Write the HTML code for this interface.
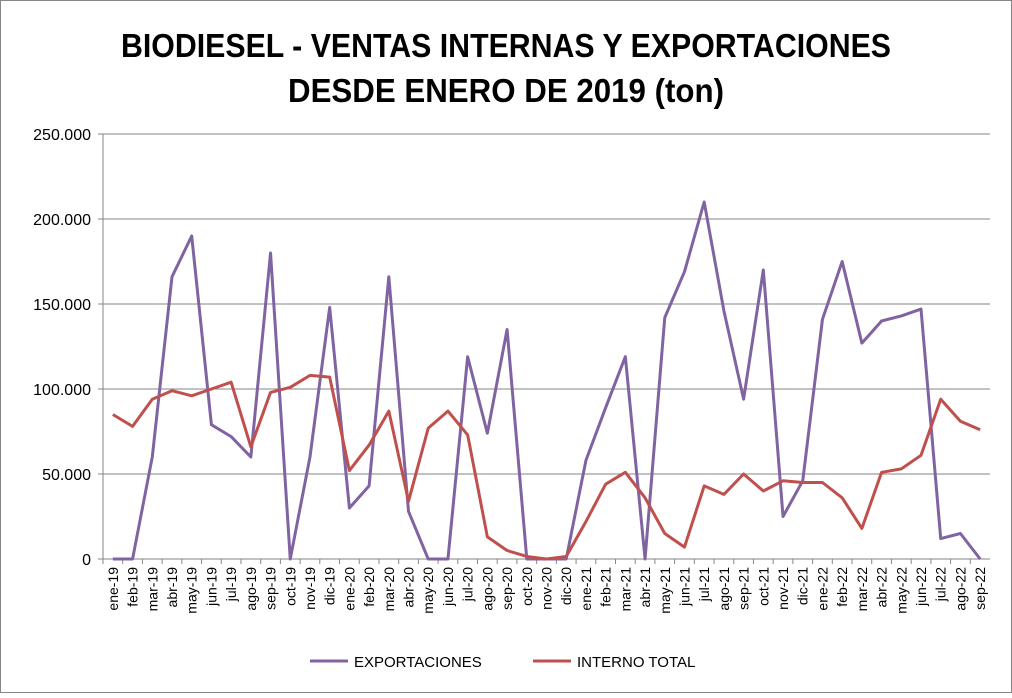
<!DOCTYPE html>
<html><head><meta charset="utf-8"><style>
body{margin:0;background:#fff;}
svg text{font-family:"Liberation Sans",Arial,sans-serif;}
</style></head><body>
<svg id="chart" width="1012" height="693" xmlns="http://www.w3.org/2000/svg">
<rect x="0.5" y="0.5" width="1011" height="692" fill="#fff" stroke="#868686"/>
<text x="506" y="57" text-anchor="middle" font-size="33" font-weight="bold" textLength="770" lengthAdjust="spacingAndGlyphs">BIODIESEL - VENTAS INTERNAS Y EXPORTACIONES</text>
<text x="506" y="102" text-anchor="middle" font-size="33" font-weight="bold" textLength="436" lengthAdjust="spacingAndGlyphs">DESDE ENERO DE 2019 (ton)</text>
<g id="grid"></g><g id="axes"></g><g id="series"></g>
<g>
<line x1="310" y1="661" x2="348" y2="661" stroke="#8064A2" stroke-width="3"/>
<text x="354" y="667" font-size="15">EXPORTACIONES</text>
<line x1="533" y1="661" x2="571" y2="661" stroke="#C0504D" stroke-width="3"/>
<text x="577" y="667" font-size="15">INTERNO TOTAL</text>
</g>
</svg>
<script>
const categories=["ene-19","feb-19","mar-19","abr-19","may-19","jun-19","jul-19","ago-19","sep-19","oct-19","nov-19","dic-19","ene-20","feb-20","mar-20","abr-20","may-20","jun-20","jul-20","ago-20","sep-20","oct-20","nov-20","dic-20","ene-21","feb-21","mar-21","abr-21","may-21","jun-21","jul-21","ago-21","sep-21","oct-21","nov-21","dic-21","ene-22","feb-22","mar-22","abr-22","may-22","jun-22","jul-22","ago-22","sep-22"];
const exportaciones=[0,0,60000,166000,190000,79000,72000,60000,180000,0,60000,148000,30000,43000,166000,28000,0,0,119000,74000,135000,0,0,0,58000,89000,119000,0,142000,169000,210000,146000,94000,170000,25000,46000,141000,175000,127000,140000,143000,147000,12000,15000,0];
const internoTotal=[85000,78000,94000,99000,96000,100000,104000,66000,98000,101000,108000,107000,52000,67000,87000,34000,77000,87000,73000,13000,5000,1500,0,1500,22000,44000,51000,36000,15000,7000,43000,38000,50000,40000,46000,45000,45000,36000,18000,51000,53000,61000,94000,81000,76000];
const yTicks=[0,50000,100000,150000,200000,250000];
const yTickLabels=["0","50.000","100.000","150.000","200.000","250.000"];
const NS="http://www.w3.org/2000/svg";
const L=103,R=990,T=134,B=559,YMAX=250000;
const step=(R-L)/categories.length;
const x=i=>L+step*(i+0.5);
const y=v=>B-(v/YMAX)*(B-T);
function mk(tag,attrs,parent){const e=document.createElementNS(NS,tag);for(const k in attrs)e.setAttribute(k,attrs[k]);parent.appendChild(e);return e;}
const grid=document.getElementById('grid'),axes=document.getElementById('axes'),series=document.getElementById('series');
yTicks.forEach((v,i)=>{
 const gl=mk('line',{x1:L,x2:R,y1:y(v),y2:y(v),stroke:i===0?'#868686':'#868686','stroke-width':1},grid);
 
 
 const t=mk('text',{x:L-12,y:y(v)+6,'text-anchor':'end','font-size':16},axes);
 t.textContent=yTickLabels[i];
 
 
 mk('line',{x1:L-5,x2:L,y1:y(v),y2:y(v),stroke:'#868686'},axes);
});
mk('line',{x1:L,x2:L,y1:T,y2:B,stroke:'#868686'},axes);
categories.forEach((c,i)=>{
 mk('line',{x1:L+step*i,x2:L+step*i,y1:B,y2:B+5,stroke:'#868686'},axes);
 const t=mk('text',{x:0,y:0,'text-anchor':'end','font-size':14,transform:`translate(${x(i)+5},${B+8}) rotate(-90)`},axes);
 t.textContent=c;
 
 
});
function line(data,color,name){
 const p=mk('polyline',{points:data.map((v,i)=>x(i)+','+y(v)).join(' '),fill:'none',stroke:color,'stroke-width':3,'stroke-linejoin':'round'},series);
 
 
}
line(exportaciones,'#8064A2','exportaciones-line');
line(internoTotal,'#C0504D','interno-total-line');
</script>
</body></html>
